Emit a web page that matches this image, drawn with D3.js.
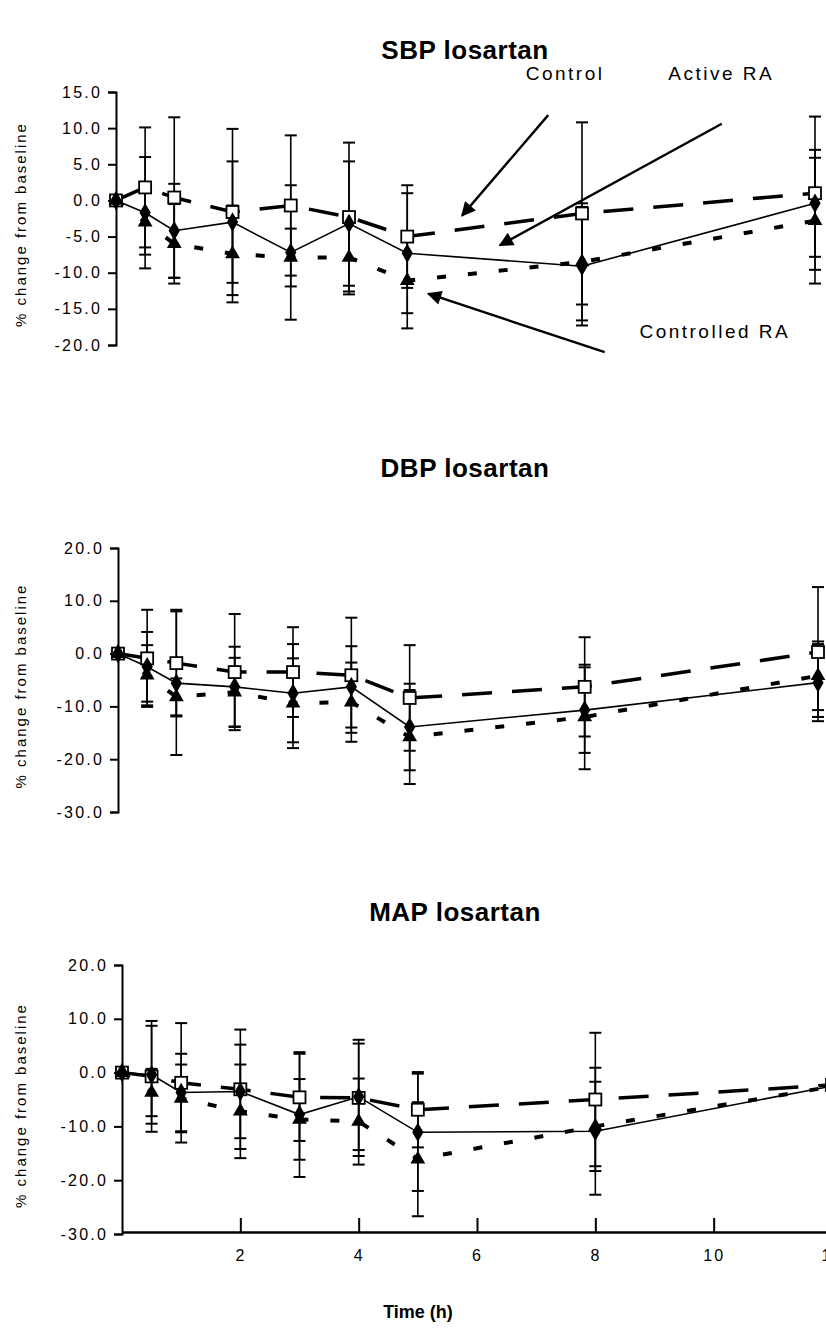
<!DOCTYPE html>
<html>
<head>
<meta charset="utf-8">
<script src="https://cdn.jsdelivr.net/npm/d3@7"></script>
<style>
  html, body { margin: 0; padding: 0; background: #fff; }
  svg { display: block; }
  text { font-family: "Liberation Sans", Arial, sans-serif; fill: #000; }
</style>
</head>
<body>
<svg id="chart" width="826" height="1336"></svg>
<script>
// ---------- data ----------
const times = [0, 0.5, 1, 2, 3, 4, 5, 8, 12];
const seriesNames = ["Control", "Active RA", "Controlled RA"];
const xTickValues = [2, 4, 6, 8, 10, 12];

// SBP losartan
const sbpControl      = [0, 1.8, 0.4, -1.6, -0.7, -2.3, -5.0, -1.8, 1.0];
const sbpControlErr   = [0, 8.3, 11.1, 11.5, 9.7, 10.3, 7.1, 12.6, 10.6];
const sbpActive       = [0, -1.7, -4.2, -3.0, -7.2, -3.2, -7.3, -9.1, -0.4];
const sbpActiveErr    = [0, 7.7, 6.5, 8.4, 9.3, 8.6, 8.3, 8.2, 7.4];
const sbpControlled   = [0, -3.0, -6.0, -7.4, -7.9, -7.9, -11.1, -8.5, -2.8];
const sbpControlledErr= [0, 4.5, 5.5, 6.7, 4.0, 5.1, 6.6, 8.1, 8.7];
const sbpYTicks = [15, 10, 5, 0, -5, -10, -15, -20];

// DBP losartan
const dbpControl      = [0, -0.9, -1.8, -3.5, -3.5, -4.1, -8.4, -6.3, 0.3];
const dbpControlErr   = [0, 9.2, 10.1, 11.0, 8.5, 10.9, 10.0, 9.4, 12.3];
const dbpActive       = [0, -2.5, -5.6, -6.3, -7.5, -6.3, -13.9, -10.7, -5.5];
const dbpActiveErr    = [0, 6.6, 13.6, 7.6, 9.3, 7.7, 8.2, 8.1, 7.3];
const dbpControlled   = [0, -4.1, -8.2, -7.3, -9.4, -9.2, -15.8, -12.0, -4.2];
const dbpControlledErr= [0, 5.7, 3.5, 6.5, 8.5, 7.5, 8.9, 9.9, 6.5];
const dbpYTicks = [20, 10, 0, -10, -20, -30];

// MAP losartan
const mapControl      = [0, -0.7, -1.9, -3.1, -4.6, -4.7, -6.9, -5.0, -2.3];
const mapControlErr   = [0, 10.3, 11.1, 11.1, 8.1, 10.8, 7.0, 12.4, 10.0];
const mapActive       = [0, -0.4, -3.7, -3.5, -7.8, -4.5, -11.1, -10.9, -2.5];
const mapActiveErr    = [0, 9.1, 7.2, 8.7, 11.6, 9.9, 10.9, 11.8, 8.0];
const mapControlled   = [0, -3.7, -4.8, -7.2, -8.7, -9.1, -16.1, -10.0, -2.6];
const mapControlledErr= [0, 4.4, 6.3, 8.7, 7.5, 8.0, 10.6, 8.3, 8.0];
const mapYTicks = [20, 10, 0, -10, -20, -30];

// annotations (top panel, in data units: time, % change)
const annoLabels = ["Control", "Active RA", "Controlled RA"];
const annoTextPos = [[7.71, 16.6], [10.39, 16.6], [10.28, -19.0]];
const annoArrowFrom = [[7.42, 11.8], [10.4, 10.6], [8.39, -21.0]];
const annoArrowTo   = [[5.94, -2.1], [6.59, -6.2], [5.36, -12.9]];

// ---------- layout ----------
const panels = [
  { title: "SBP losartan", titleX: 465, titleY: 59,
    xr: [116, 815], yd: [15, -20], yr: [92, 345], ticks: sbpYTicks,
    series: [[sbpControl, sbpControlErr], [sbpActive, sbpActiveErr], [sbpControlled, sbpControlledErr]],
    xAxis: false, anno: true },
  { title: "DBP losartan", titleX: 465, titleY: 477,
    xr: [118, 818], yd: [20, -30], yr: [548, 812], ticks: dbpYTicks,
    series: [[dbpControl, dbpControlErr], [dbpActive, dbpActiveErr], [dbpControlled, dbpControlledErr]],
    xAxis: false, anno: false },
  { title: "MAP losartan", titleX: 455, titleY: 921,
    xr: [122, 832], yd: [20, -30], yr: [965, 1234], ticks: mapYTicks,
    series: [[mapControl, mapControlErr], [mapActive, mapActiveErr], [mapControlled, mapControlledErr]],
    xAxis: true, anno: false }
];

const styles = [
  { dash: "30,20", width: 3.5, marker: "square" },
  { dash: null, width: 1.6, marker: "diamond" },
  { dash: "9,22", width: 4, marker: "triangle" }
];

const svg = d3.select("#chart");
svg.append("rect").attr("width", 826).attr("height", 1336).attr("fill", "#fff");

const defs = svg.append("defs");
defs.append("marker").attr("id", "arrowhead")
  .attr("viewBox", "0 0 10 10").attr("refX", 9).attr("refY", 5)
  .attr("markerWidth", 7).attr("markerHeight", 6).attr("markerUnits", "strokeWidth")
  .attr("orient", "auto")
  .append("path").attr("d", "M0,0 L10,5 L0,10 z").attr("fill", "#000");

const fmt = d => d.toFixed(1);

panels.forEach(p => {
  const x = d3.scaleLinear().domain([0, 12]).range(p.xr);
  const y = d3.scaleLinear().domain(p.yd).range(p.yr);
  const g = svg.append("g");

  // title
  svg.append("text").attr("x", p.titleX).attr("y", p.titleY)
    .attr("text-anchor", "middle").attr("font-size", 26).attr("font-weight", "bold")
    .attr("letter-spacing", 0.5).text(p.title);

  // y axis
  const yAxis = d3.axisLeft(y).tickValues(p.ticks).tickFormat(fmt).tickSize(8).tickSizeOuter(8).tickPadding(6);
  const ya = g.append("g").attr("transform", `translate(${p.xr[0]},0)`).call(yAxis);
  ya.select(".domain").attr("stroke-width", 2);
  ya.selectAll(".tick line").attr("stroke-width", 2);
  ya.selectAll("text").attr("font-size", 16).attr("letter-spacing", 2.2)
    .attr("font-family", "'Liberation Sans', Arial, sans-serif");

  // y axis title
  const cy = (p.yr[0] + p.yr[1]) / 2 + 6;
  svg.append("text").attr("transform", `translate(26,${cy}) rotate(-90)`)
    .attr("text-anchor", "middle").attr("font-size", 15).attr("letter-spacing", 2.0)
    .text("% change from baseline");

  // x axis
  if (p.xAxis) {
    const xAxis = d3.axisBottom(x).tickValues(xTickValues).tickFormat(d3.format("d"))
      .tickSizeInner(-14).tickSizeOuter(0).tickPadding(18);
    const xa = g.append("g").attr("transform", `translate(0,${p.yr[1] - 2})`).call(xAxis);
    xa.select(".domain").attr("stroke-width", 2.5);
    xa.selectAll(".tick line").attr("stroke-width", 2);
    xa.selectAll("text").attr("font-size", 16).attr("letter-spacing", 2);
  }

  // error bars
  p.series.forEach(([vals, errs]) => {
    const eb = g.append("g").attr("stroke", "#000").attr("stroke-width", 1.6);
    times.forEach((t, i) => {
      if (!errs[i]) return;
      const xp = x(t), y1 = y(vals[i] + errs[i]), y2 = y(vals[i] - errs[i]);
      eb.append("line").attr("x1", xp).attr("x2", xp).attr("y1", y1).attr("y2", y2);
      eb.append("line").attr("x1", xp - 6).attr("x2", xp + 6).attr("y1", y1).attr("y2", y1).attr("stroke-width", 2);
      eb.append("line").attr("x1", xp - 6).attr("x2", xp + 6).attr("y1", y2).attr("y2", y2).attr("stroke-width", 2);
    });
  });

  // lines
  p.series.forEach(([vals], si) => {
    const st = styles[si];
    const line = d3.line().x((d, i) => x(times[i])).y(d => y(d));
    const path = g.append("path").datum(vals).attr("d", line)
      .attr("fill", "none").attr("stroke", "#000").attr("stroke-width", st.width);
    if (st.dash) path.attr("stroke-dasharray", st.dash);
  });

  // markers
  p.series.forEach(([vals], si) => {
    const st = styles[si];
    const mg = g.append("g");
    vals.forEach((v, i) => {
      const xp = x(times[i]), yp = y(v);
      if (st.marker === "square") {
        mg.append("rect").attr("x", xp - 6).attr("y", yp - 6).attr("width", 12).attr("height", 12)
          .attr("fill", "#fff").attr("stroke", "#000").attr("stroke-width", 1.8);
      } else if (st.marker === "diamond") {
        mg.append("path").attr("d", d3.symbol(d3.symbolDiamond, 110)())
          .attr("transform", `translate(${xp},${yp})`).attr("fill", "#000");
      } else {
        mg.append("path").attr("d", d3.symbol(d3.symbolTriangle, 95)())
          .attr("transform", `translate(${xp},${yp})`).attr("fill", "#000");
      }
    });
  });

  // annotations
  if (p.anno) {
    annoLabels.forEach((lab, i) => {
      svg.append("text").attr("x", x(annoTextPos[i][0])).attr("y", y(annoTextPos[i][1]))
        .attr("text-anchor", "middle").attr("font-size", 19).attr("letter-spacing", 2.5).text(lab);
      svg.append("line")
        .attr("x1", x(annoArrowFrom[i][0])).attr("y1", y(annoArrowFrom[i][1]))
        .attr("x2", x(annoArrowTo[i][0])).attr("y2", y(annoArrowTo[i][1]))
        .attr("stroke", "#000").attr("stroke-width", 2.4).attr("marker-end", "url(#arrowhead)");
    });
  }
});

// x axis title
svg.append("text").attr("x", 418).attr("y", 1318).attr("text-anchor", "middle")
  .attr("font-size", 18).attr("font-weight", "bold").text("Time (h)");
</script>
</body>
</html>
